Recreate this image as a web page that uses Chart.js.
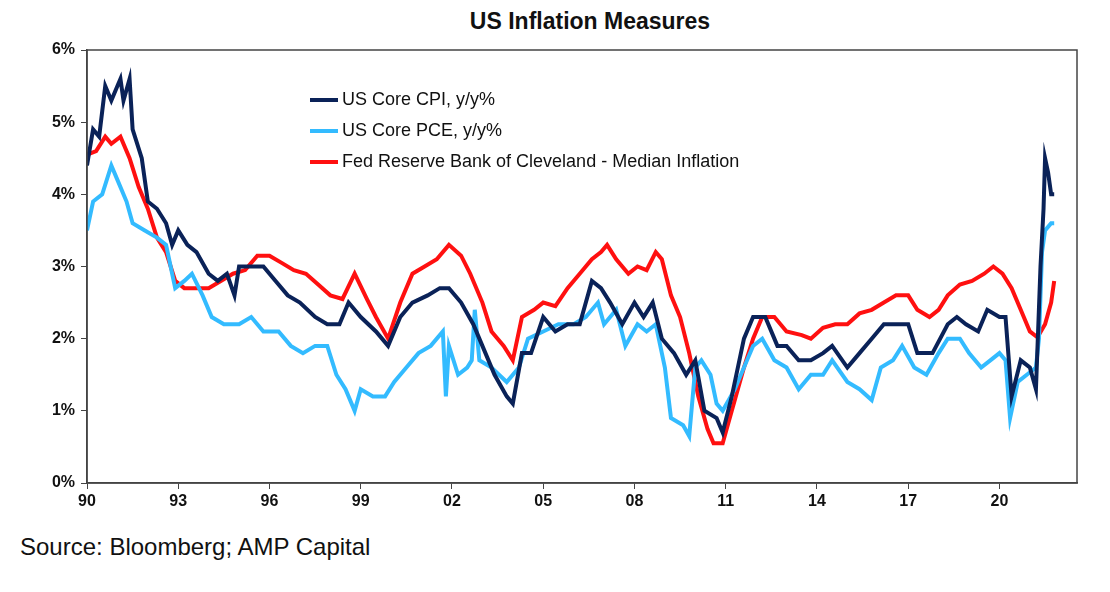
<!DOCTYPE html>
<html lang="en">
<head>
  <meta charset="UTF-8">
  <title>US Inflation Measures</title>
  <script src="https://cdn.jsdelivr.net/npm/chart.js"></script>
  <style>
    body { margin: 0; font-family: Arial, "Liberation Sans", sans-serif; background: #fff; }
    #wrap { position: relative; width: 1110px; height: 592px; }
    #chart-box { position: absolute; left: 0; top: 0; width: 1110px; height: 520px; }
    h2 { position: absolute; left: 0; width: 1180px; top: 8px; margin: 0; text-align: center; font-size: 23px; font-weight: bold; color: #111; }
    #legend { position: absolute; left: 310px; top: 84px; font-size: 18px; color: #111; }
    #legend div { height: 31px; display: flex; align-items: center; }
    #legend span.sw { display: inline-block; width: 28px; height: 4px; margin-right: 4px; }
    #source { position: absolute; left: 20px; top: 533px; font-size: 24px; color: #111; }
  </style>
</head>
<body>
<div id="wrap">
  <h2>US Inflation Measures</h2>
  <div id="chart-box"><canvas id="inflChart" width="1110" height="520"></canvas></div>
  <div id="legend">
    <div><span class="sw" style="background:#0a2258"></span>US Core CPI, y/y%</div>
    <div><span class="sw" style="background:#33bbff"></span>US Core PCE, y/y%</div>
    <div><span class="sw" style="background:#ff1010"></span>Fed Reserve Bank of Cleveland - Median Inflation</div>
  </div>
  <div id="source">Source: Bloomberg; AMP Capital</div>
</div>
<script>
  const xTickYears = [1990, 1993, 1996, 1999, 2002, 2005, 2008, 2011, 2014, 2017, 2020];
  const yTickValues = [0, 1, 2, 3, 4, 5, 6];

  // [decimal year, y/y %]
  const coreCpi = [
    [1990.0,4.4],[1990.2,4.9],[1990.4,4.8],[1990.6,5.5],[1990.8,5.3],[1991.0,5.5],[1991.1,5.6],[1991.2,5.3],
    [1991.4,5.6],[1991.5,4.9],[1991.8,4.5],[1992.0,3.9],[1992.3,3.8],[1992.6,3.6],[1992.8,3.3],[1993.0,3.5],
    [1993.3,3.3],[1993.6,3.2],[1994.0,2.9],[1994.3,2.8],[1994.6,2.9],[1994.85,2.6],[1995.0,3.0],[1995.4,3.0],
    [1995.8,3.0],[1996.2,2.8],[1996.6,2.6],[1997.0,2.5],[1997.5,2.3],[1997.9,2.2],[1998.3,2.2],[1998.6,2.5],
    [1999.0,2.3],[1999.5,2.1],[1999.9,1.9],[2000.3,2.3],[2000.7,2.5],[2001.2,2.6],[2001.6,2.7],[2001.9,2.7],
    [2002.3,2.5],[2002.7,2.2],[2003.0,1.9],[2003.4,1.5],[2003.8,1.2],[2004.0,1.1],[2004.3,1.8],[2004.6,1.8],
    [2005.0,2.3],[2005.4,2.1],[2005.8,2.2],[2006.2,2.2],[2006.6,2.8],[2006.9,2.7],[2007.2,2.5],[2007.6,2.2],
    [2008.0,2.5],[2008.3,2.3],[2008.6,2.5],[2008.9,2.0],[2009.3,1.8],[2009.7,1.5],[2010.0,1.7],[2010.3,1.0],
    [2010.7,0.9],[2010.9,0.7],[2011.2,1.2],[2011.6,2.0],[2011.9,2.3],[2012.3,2.3],[2012.7,1.9],[2013.0,1.9],
    [2013.4,1.7],[2013.8,1.7],[2014.2,1.8],[2014.5,1.9],[2015.0,1.6],[2015.4,1.8],[2015.8,2.0],[2016.2,2.2],
    [2016.6,2.2],[2017.0,2.2],[2017.3,1.8],[2017.8,1.8],[2018.3,2.2],[2018.6,2.3],[2018.9,2.2],[2019.3,2.1],
    [2019.6,2.4],[2020.0,2.3],[2020.2,2.3],[2020.4,1.2],[2020.7,1.7],[2021.0,1.6],[2021.2,1.3],[2021.35,3.0],
    [2021.45,3.8],[2021.5,4.5],[2021.6,4.3],[2021.7,4.0],[2021.8,4.0]
  ];
  const corePce = [
    [1990.0,3.5],[1990.2,3.9],[1990.5,4.0],[1990.8,4.4],[1991.0,4.2],[1991.3,3.9],[1991.5,3.6],[1991.9,3.5],
    [1992.3,3.4],[1992.6,3.3],[1992.9,2.7],[1993.2,2.8],[1993.45,2.9],[1993.8,2.6],[1994.1,2.3],[1994.5,2.2],
    [1995.0,2.2],[1995.4,2.3],[1995.8,2.1],[1996.3,2.1],[1996.7,1.9],[1997.1,1.8],[1997.5,1.9],[1997.9,1.9],
    [1998.2,1.5],[1998.5,1.3],[1998.8,1.0],[1999.0,1.3],[1999.4,1.2],[1999.8,1.2],[2000.1,1.4],[2000.5,1.6],
    [2000.9,1.8],[2001.3,1.9],[2001.7,2.1],[2001.8,1.2],[2001.9,1.9],[2002.2,1.5],[2002.5,1.6],[2002.65,1.7],
    [2002.75,2.4],[2002.9,1.7],[2003.3,1.6],[2003.8,1.4],[2004.2,1.6],[2004.5,2.0],[2005.0,2.1],[2005.5,2.2],
    [2006.0,2.2],[2006.4,2.3],[2006.8,2.5],[2007.0,2.2],[2007.4,2.4],[2007.7,1.9],[2008.1,2.2],[2008.4,2.1],
    [2008.7,2.2],[2009.0,1.6],[2009.2,0.9],[2009.6,0.8],[2009.8,0.65],[2010.0,1.6],[2010.2,1.7],[2010.5,1.5],
    [2010.7,1.1],[2010.9,1.0],[2011.3,1.3],[2011.7,1.7],[2011.9,1.9],[2012.2,2.0],[2012.6,1.7],[2013.0,1.6],
    [2013.4,1.3],[2013.8,1.5],[2014.2,1.5],[2014.5,1.7],[2015.0,1.4],[2015.4,1.3],[2015.8,1.15],[2016.1,1.6],
    [2016.5,1.7],[2016.8,1.9],[2017.2,1.6],[2017.6,1.5],[2018.0,1.8],[2018.3,2.0],[2018.7,2.0],[2019.0,1.8],
    [2019.4,1.6],[2019.7,1.7],[2020.0,1.8],[2020.2,1.7],[2020.35,0.9],[2020.6,1.4],[2020.9,1.5],[2021.2,1.6],
    [2021.3,2.0],[2021.4,3.2],[2021.5,3.5],[2021.7,3.6],[2021.8,3.6]
  ];
  const medianCpi = [
    [1990.0,4.55],[1990.3,4.6],[1990.6,4.8],[1990.8,4.7],[1991.1,4.8],[1991.4,4.5],[1991.7,4.1],[1992.0,3.8],
    [1992.3,3.4],[1992.6,3.2],[1992.9,2.8],[1993.2,2.7],[1993.6,2.7],[1994.0,2.7],[1994.4,2.8],[1994.8,2.9],
    [1995.2,2.95],[1995.6,3.15],[1996.0,3.15],[1996.4,3.05],[1996.8,2.95],[1997.2,2.9],[1997.6,2.75],[1998.0,2.6],
    [1998.4,2.55],[1998.8,2.9],[1999.2,2.55],[1999.5,2.3],[1999.9,2.0],[2000.3,2.5],[2000.7,2.9],[2001.1,3.0],
    [2001.5,3.1],[2001.9,3.3],[2002.3,3.15],[2002.6,2.9],[2003.0,2.5],[2003.3,2.1],[2003.7,1.9],[2004.0,1.7],
    [2004.3,2.3],[2004.7,2.4],[2005.0,2.5],[2005.4,2.45],[2005.8,2.7],[2006.2,2.9],[2006.6,3.1],[2006.9,3.2],
    [2007.1,3.3],[2007.4,3.1],[2007.8,2.9],[2008.1,3.0],[2008.4,2.95],[2008.7,3.2],[2008.9,3.1],[2009.2,2.6],
    [2009.5,2.3],[2009.8,1.8],[2010.1,1.2],[2010.4,0.75],[2010.6,0.55],[2010.9,0.55],[2011.2,1.0],[2011.6,1.6],
    [2011.9,2.0],[2012.2,2.3],[2012.6,2.3],[2013.0,2.1],[2013.5,2.05],[2013.8,2.0],[2014.2,2.15],[2014.6,2.2],
    [2015.0,2.2],[2015.4,2.35],[2015.8,2.4],[2016.2,2.5],[2016.6,2.6],[2017.0,2.6],[2017.3,2.4],[2017.7,2.3],
    [2018.0,2.4],[2018.3,2.6],[2018.7,2.75],[2019.1,2.8],[2019.5,2.9],[2019.8,3.0],[2020.1,2.9],[2020.4,2.7],
    [2020.7,2.4],[2021.0,2.1],[2021.25,2.02],[2021.5,2.2],[2021.7,2.5],[2021.8,2.8]
  ];

  const toXY = arr => arr.map(([x, y]) => ({ x, y }));

  // full frame round the plot box
  const frame = {
    id: 'frame',
    afterDraw(chart) {
      const a = chart.chartArea, c = chart.ctx;
      c.save();
      c.strokeStyle = '#444';
      c.lineWidth = 1.5;
      c.strokeRect(a.left, a.top, a.right - a.left, a.bottom - a.top);
      c.restore();
    }
  };

  const tickFont = { family: 'Arial, "Liberation Sans"', size: 16, weight: 'bold' };

  new Chart(document.getElementById('inflChart'), {
    type: 'line',
    data: {
      datasets: [
        { label: 'Fed Reserve Bank of Cleveland - Median Inflation', data: toXY(medianCpi), borderColor: '#ff1010', order: 3 },
        { label: 'US Core PCE, y/y%', data: toXY(corePce), borderColor: '#33bbff', order: 2 },
        { label: 'US Core CPI, y/y%', data: toXY(coreCpi), borderColor: '#0a2258', order: 1 }
      ]
    },
    options: {
      responsive: false,
      animation: false,
      layout: { padding: { top: 50, right: 33, left: 0, bottom: 0 } },
      elements: { point: { radius: 0 }, line: { borderWidth: 4, tension: 0 } },
      plugins: { legend: { display: false }, tooltip: { enabled: false } },
      scales: {
        x: {
          type: 'linear', min: 1990, max: 2022.55,
          afterBuildTicks: s => { s.ticks = xTickYears.map(v => ({ value: v })); },
          afterFit: s => { s.height = 37; },
          grid: { display: true, drawOnChartArea: false, tickLength: 6, color: '#444' },
          border: { color: '#444', width: 1.5 },
          ticks: { color: '#111', font: tickFont, autoSkip: false, maxRotation: 0,
            callback: v => String(v % 100).padStart(2, '0') }
        },
        y: {
          min: 0, max: 6,
          afterBuildTicks: s => { s.ticks = yTickValues.map(v => ({ value: v })); },
          afterFit: s => { s.width = 87; },
          grid: { display: true, drawOnChartArea: false, tickLength: 6, color: '#444' },
          border: { color: '#444', width: 1.5 },
          ticks: { color: '#111', font: tickFont, padding: 6, callback: v => v + '%' }
        }
      }
    },
    plugins: [frame]
  });
</script>
</body>
</html>
